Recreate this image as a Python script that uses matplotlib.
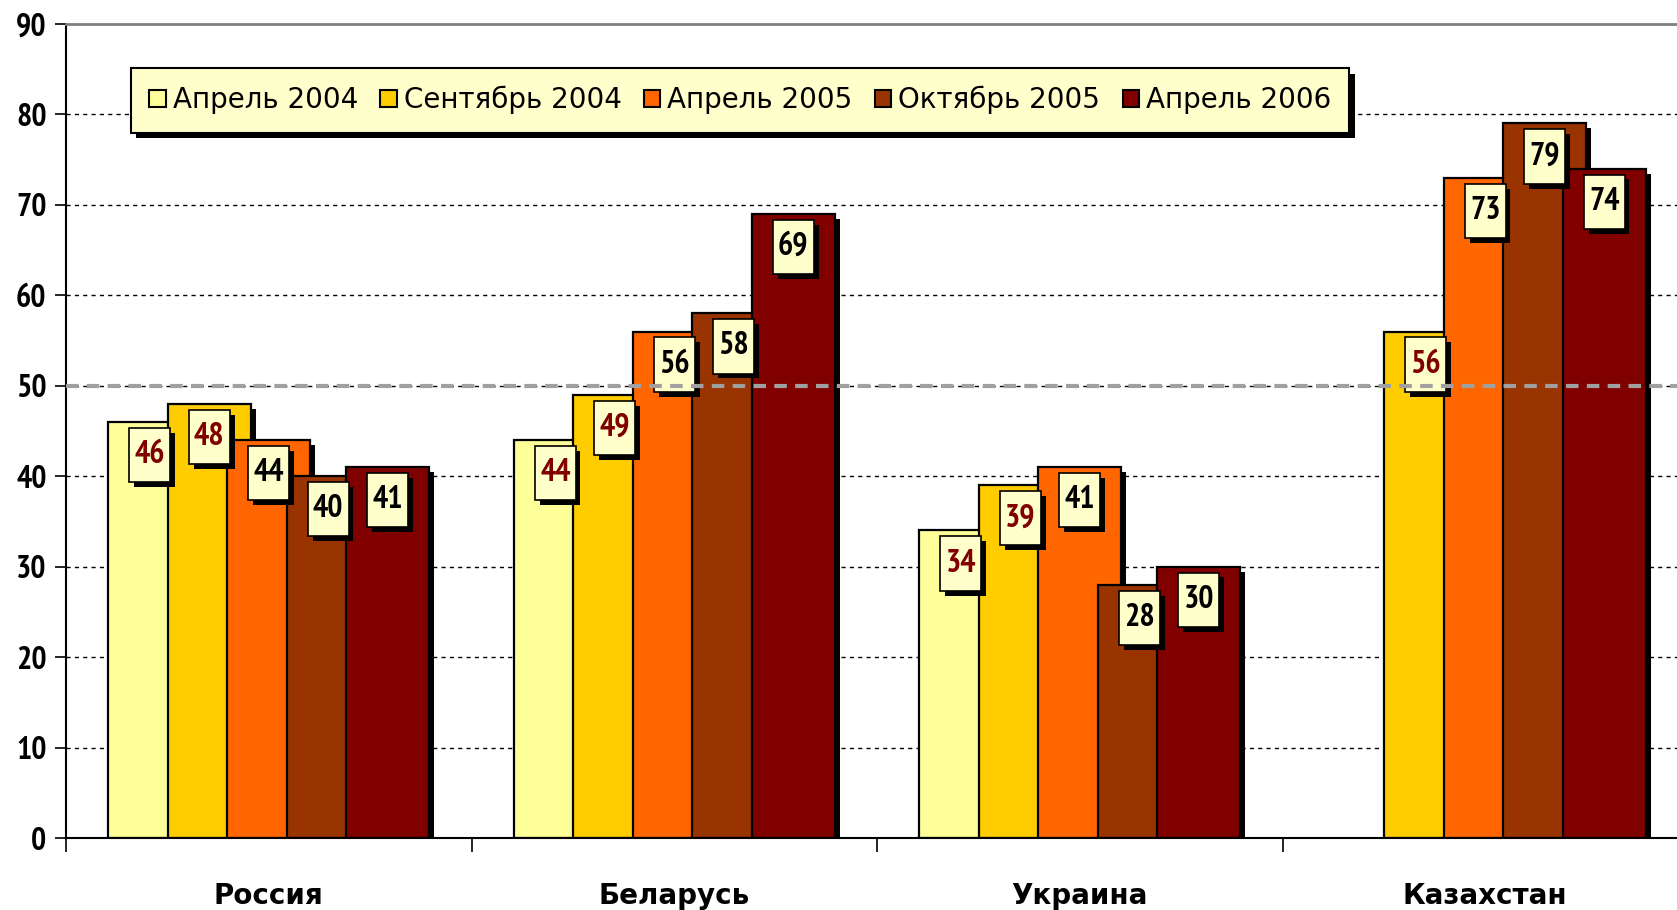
import numpy as np
import matplotlib
matplotlib.use('Agg')
import matplotlib.pyplot as plt
from matplotlib.path import Path
import matplotlib.patheffects as pe

# данные
countries = ['Россия', 'Беларусь', 'Украина', 'Казахстан']
series = ['Апрель 2004', 'Сентябрь 2004', 'Апрель 2005', 'Октябрь 2005', 'Апрель 2006']
apr2004 = [46, 44, 34, np.nan]
sep2004 = [48, 49, 39, 56]
apr2005 = [44, 56, 41, 73]
oct2005 = [40, 58, 28, 79]
apr2006 = [41, 69, 30, 74]
colors = ['#FFFF99', '#FFCC00', '#FF6600', '#993300', '#800000']
label_colors = ['#800000', '#800000', 'black', 'black', 'black']
values = [apr2004, sep2004, apr2005, oct2005, apr2006]

narrow = ['PT Sans Narrow', 'Roboto Condensed', 'Archivo Narrow', 'DejaVu Sans']
plt.rcParams['font.family'] = narrow

fig = plt.figure(figsize=(16.77, 9.10), dpi=100)
ax = fig.add_axes([66 / 1677, 72 / 910, 1622 / 1677, 814 / 910])

x = np.arange(len(countries))
step = 0.1467
width = 0.205
shadow = [pe.SimplePatchShadow(offset=(3.5, -3.5), shadow_rgbFace='black', alpha=1), pe.Normal()]


def label_box(x0, y0, w, h, mutation_size):
    # рамка подписи: узкая по горизонтали, высокая по вертикали
    px = 0.16 * mutation_size
    py = 0.38 * mutation_size
    return Path([(x0 - px, y0 - py), (x0 + w + px, y0 - py), (x0 + w + px, y0 + h + py),
                 (x0 - px, y0 + h + py), (x0 - px, y0 - py)], closed=True)


for i, (vals, col) in enumerate(zip(values, colors)):
    pos = x + (i - 2) * step
    bars = ax.bar(pos, vals, width=width, color=col, edgecolor='black', linewidth=1.6,
                  label=series[i], zorder=2)
    for b in bars:
        b.set_path_effects(shadow)
    for xp, v in zip(pos, vals):
        if np.isnan(v):
            continue
        t = ax.annotate(f'{v:.0f}', xy=(xp, v), xytext=(0, -13), textcoords='offset points',
                        ha='center', va='top', fontsize=23, fontweight='bold',
                        color=label_colors[i], zorder=5,
                        bbox=dict(boxstyle=label_box, fc='#FFFFCC', ec='black', lw=1.2))
        t.get_bbox_patch().set_path_effects(shadow)

# серая линия 50
ax.axhline(50, color='#A0A0A0', lw=3, ls=(0, (3, 2)), zorder=6)

ax.set_ylim(0, 90)
ax.set_xlim(-0.5, 3.5)
ax.set_yticks(np.arange(0, 91, 10))
ax.yaxis.grid(True, color='black', ls=(0, (3, 3)), lw=1)
ax.set_axisbelow(True)
ax.tick_params(axis='y', labelsize=23, length=8, width=1.2, pad=6)
for lab in ax.get_yticklabels():
    lab.set_fontweight('bold')

ax.set_xticks(x)
ax.set_xticklabels(countries, fontsize=20, fontweight='bold', family=['DejaVu Sans'])
ax.tick_params(axis='x', length=0, pad=32)
ax.set_xticks(np.arange(-0.5, 4, 1), minor=True)
ax.tick_params(axis='x', which='minor', length=10, width=1.2)

ax.spines['top'].set_color('#808080')
ax.spines['top'].set_linewidth(2)
ax.spines['right'].set_visible(False)
ax.spines['left'].set_linewidth(1.5)
ax.spines['bottom'].set_linewidth(1.5)

leg = ax.legend(loc='upper left', bbox_to_anchor=(0.04, 0.946), borderaxespad=0, ncol=5,
                frameon=True, fancybox=False, edgecolor='black', facecolor='#FFFFCC', framealpha=1,
                prop={'family': ['DejaVu Sans'], 'size': 20}, handlelength=0.6, handleheight=0.6,
                handletextpad=0.25, columnspacing=0.8, borderpad=0.65)
leg.get_frame().set_linewidth(1.5)
leg.legendPatch.set_path_effects([pe.SimplePatchShadow(offset=(4, -4), shadow_rgbFace='black', alpha=1),
                                  pe.Normal()])
for h in leg.legend_handles:
    h.set_path_effects([])
    h.set_linewidth(1.5)
leg.set_zorder(7)

fig.savefig('out.png', dpi=100)
